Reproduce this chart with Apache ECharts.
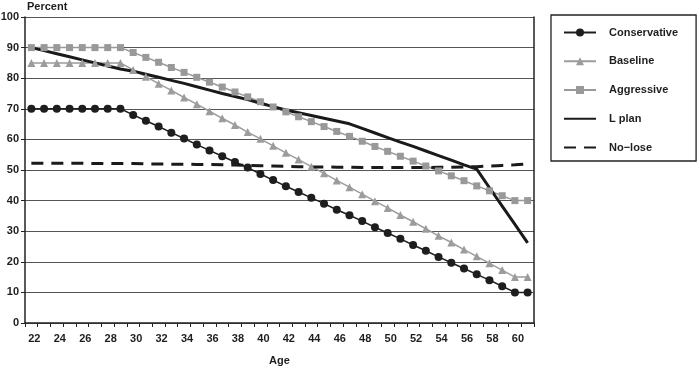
<!DOCTYPE html>
<html>
<head>
<meta charset="utf-8">
<script src="https://cdn.jsdelivr.net/npm/echarts@6/dist/echarts.min.js"></script>
<style>html,body{margin:0;padding:0;background:#fff}#c{width:700px;height:368px}</style>
</head>
<body>
<div id="c"></div>
<script>
var ages = [22,23,24,25,26,27,28,29,30,31,32,33,34,35,36,37,38,39,40,41,42,43,44,45,46,47,48,49,50,51,52,53,54,55,56,57,58,59,60,61];
var conservative = [70,70,70,70,70,70,70,70,68,66.1,64.2,62.2,60.3,58.3,56.4,54.5,52.6,50.8,48.7,46.7,44.7,42.8,40.9,39,37,35.2,33.3,31.3,29.4,27.5,25.5,23.6,21.6,19.7,17.8,15.9,14,12,10,10];
var baseline = [85,85,85,85,85,85,85,85,82.7,80.5,78.2,76,73.7,71.5,69.2,66.9,64.7,62.4,60.2,57.9,55.6,53.4,51.1,48.9,46.6,44.4,42.1,39.8,37.6,35.3,33.1,30.8,28.5,26.3,24,21.8,19.5,17.3,15,15];
var aggressive = [90,90,90,90,90,90,90,90,88.4,86.8,85.2,83.5,81.9,80.3,78.7,77.1,75.5,73.9,72.3,70.6,69,67.4,65.8,64.2,62.6,61,59.4,57.7,56.1,54.5,52.9,51.3,49.7,48.1,46.5,44.8,43.2,41.6,40,40];
var lPlan = [90,89,88,87,86,85,84,83,82.3,81.3,80.3,79.3,78.3,77.2,76.1,75,74,73,71.8,70.7,69.6,68.7,67.8,66.9,66,65.1,63.6,62.1,60.6,59.1,57.7,56.2,54.7,53.2,51.7,50.3,44.2,38.2,32.2,26.2];
var noLose = [52.2,52.2,52.2,52.2,52.2,52.1,52.1,52.1,52.1,52,52,51.9,51.9,51.8,51.8,51.7,51.6,51.5,51.4,51.3,51.2,51.1,51,51,50.9,50.9,50.8,50.8,50.8,50.8,50.8,50.8,50.9,50.9,51,51.1,51.3,51.5,51.7,52];
var seriesNames = ['Conservative','Baseline','Aggressive','L plan','No\u2212lose'];

var FONT = '"Liberation Sans", Arial, sans-serif';
var TXT = '#1e1e1e';
var chart = echarts.init(document.getElementById('c'));
chart.setOption({
  animation: false,
  backgroundColor: '#fff',
  title: {
    text: 'Percent', left: 27, top: 1, padding: 0,
    textStyle: {fontFamily: FONT, fontSize: 11, fontWeight: 'bold', color: TXT}
  },
  grid: {left: 25, right: 166, top: 17, bottom: 45, containLabel: false, outerBoundsMode: 'none'},
  legend: {
    orient: 'vertical', left: 551, top: 15,
    padding: [12, 18, 8, 12],
    itemWidth: 32, itemHeight: 10, itemGap: 17.75,
    borderColor: '#222', borderWidth: 1.3,
    data: [
      {name: seriesNames[0]},
      {name: seriesNames[1]},
      {name: seriesNames[2]},
      {name: seriesNames[3], itemStyle: {opacity: 0}},
      {name: seriesNames[4], itemStyle: {opacity: 0}}
    ],
    textStyle: {fontFamily: FONT, fontSize: 11, fontWeight: 'bold', color: TXT, padding: [0,0,0,8]}
  },
  xAxis: {
    type: 'category', data: ages, boundaryGap: true,
    name: 'Age', nameLocation: 'middle', nameGap: 32,
    nameTextStyle: {fontFamily: FONT, fontSize: 11, fontWeight: 'bold', color: TXT},
    axisLine: {lineStyle: {color: '#222', width: 1.5}},
    axisTick: {show: true, interval: 0, length: 4, lineStyle: {color: '#222'}},
    axisLabel: {interval: 1, margin: 10, padding: [0, 0, 0, 6], fontFamily: FONT, fontSize: 11, fontWeight: 'bold', color: TXT},
    splitLine: {show: false}
  },
  yAxis: [{
    type: 'value', min: 0, max: 100, interval: 10,
    axisLine: {show: true, lineStyle: {color: '#222', width: 1.5}},
    axisTick: {show: true, length: 4, lineStyle: {color: '#222'}},
    axisLabel: {margin: 6, fontFamily: FONT, fontSize: 11, fontWeight: 'bold', color: TXT},
    splitLine: {show: true, lineStyle: {color: '#555', width: 1}}
  }, {
    type: 'value', min: 0, max: 100, interval: 10, position: 'right',
    axisLine: {show: true, lineStyle: {color: '#222', width: 1.5}},
    axisTick: {show: false}, axisLabel: {show: false}, splitLine: {show: false}
  }],
  series: [
    {name: seriesNames[0], type: 'line', data: conservative, symbol: 'circle', symbolSize: 8,
     lineStyle: {color: '#1e1e1e', width: 1.5}, itemStyle: {color: '#1e1e1e'}},
    {name: seriesNames[1], type: 'line', data: baseline, symbol: 'triangle', symbolSize: 8,
     lineStyle: {color: '#9c9c9c', width: 1.5}, itemStyle: {color: '#9c9c9c'}},
    {name: seriesNames[2], type: 'line', data: aggressive, symbol: 'rect', symbolSize: 7,
     lineStyle: {color: '#999', width: 1.5}, itemStyle: {color: '#999'}},
    {name: seriesNames[3], type: 'line', data: lPlan, symbol: 'none',
     lineStyle: {color: '#1a1a1a', width: 3}, itemStyle: {color: '#1a1a1a'}},
    {name: seriesNames[4], type: 'line', data: noLose, symbol: 'none',
     lineStyle: {color: '#1a1a1a', width: 3, type: [12, 8]}, itemStyle: {color: '#1a1a1a'}}
  ]
});
</script>
</body>
</html>
